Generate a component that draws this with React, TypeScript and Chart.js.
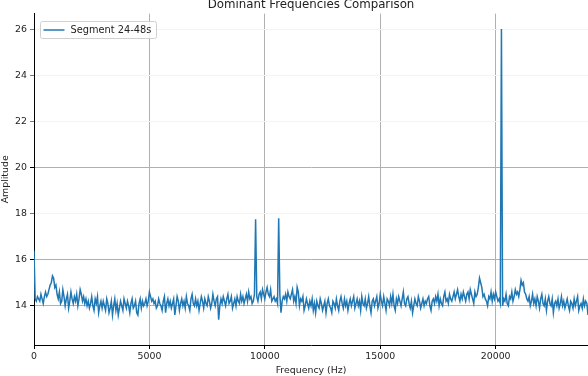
import React, { useEffect, useRef } from "react";
import { Chart, registerables } from "chart.js";

Chart.register(...registerables);

const TITLE = "Dominant Frequencies Comparison";
const SERIES_LABEL = "Segment 24-48s";
const X_LABEL = "Frequency (Hz)";
const Y_LABEL = "Amplitude";

// frequency bins every 50 Hz, 0 .. 24000 Hz
const FREQ_STEP_HZ = 50;
const AMPLITUDES: number[] = [
  // 0 - 950
  16.4, 14.3, 14.2, 14.4, 14.3, 14.2, 14.5, 14.3, 14.1, 14.4, 14.6, 14.4, 14.5, 14.7, 14.9, 15.0, 15.3, 15.2, 14.8, 14.9,
  // 1000 - 1950
  14.5, 14.3, 14.6, 14.1, 14.2, 14.7, 14.4, 14.0, 14.3, 14.5, 13.9, 14.2, 14.6, 14.3, 14.1, 14.4, 14.2, 14.5, 14.0, 14.3,
  // 2000 - 2950
  14.7, 14.5, 14.2, 14.4, 14.1, 14.3, 14.0, 14.2, 13.9, 14.1, 14.4, 14.0, 13.8, 14.3, 14.1, 14.4, 13.7, 14.0, 14.2, 13.9,
  // 3000 - 3950
  14.2, 14.0, 13.8, 14.3, 14.1, 13.7, 13.9, 14.2, 13.6, 14.0, 14.3, 13.8, 14.1, 13.6, 13.9, 14.2, 14.0, 13.8, 14.3, 14.1,
  // 4000 - 4950
  13.9, 14.2, 14.0, 13.7, 14.1, 14.3, 13.9, 14.0, 14.2, 13.7, 13.6, 14.1, 14.3, 13.9, 14.2, 14.0, 14.1, 14.3, 14.0, 14.2,
  // 5000 - 5950
  14.6, 14.4, 14.2, 14.3, 14.1, 14.2, 13.9, 14.0, 14.3, 14.1, 14.0, 13.8, 14.2, 14.4, 13.7, 14.1, 14.3, 14.0, 14.2, 13.9,
  // 6000 - 6950
  14.1, 14.3, 13.6, 14.0, 14.4, 14.2, 13.8, 14.1, 14.3, 14.0, 14.2, 13.9, 14.4, 14.1, 14.0, 13.8, 14.3, 14.5, 14.1, 14.0,
  // 7000 - 7950
  14.3, 14.0, 14.2, 13.8, 14.1, 14.4, 14.2, 13.9, 14.3, 14.1, 14.0, 14.4, 14.2, 13.9, 14.1, 14.5, 14.2, 14.0, 14.3, 14.4,
  // 8000 - 8950
  13.4, 14.0, 14.3, 14.1, 14.4, 14.2, 14.0, 14.3, 14.5, 14.1, 14.2, 14.4, 13.9, 14.1, 14.3, 14.0, 14.4, 14.2, 14.1, 14.5,
  // 9000 - 9950
  14.2, 14.4, 14.1, 14.3, 14.5, 14.2, 14.6, 14.3, 14.4, 14.1, 14.2, 14.5, 17.75, 14.4, 14.2, 14.5, 14.6, 14.3, 14.7, 14.5,
  // 10000 - 10950
  14.3, 14.6, 14.8, 14.5, 14.4, 14.7, 14.2, 14.3, 14.4, 14.2, 14.3, 14.1, 17.8, 14.5, 13.7, 14.2, 14.4, 14.3, 14.5, 14.2,
  // 11000 - 11950
  14.6, 14.4, 14.3, 14.5, 14.7, 14.2, 14.4, 14.1, 14.8, 14.6, 14.0, 14.3, 14.2, 14.4, 13.8, 14.0, 14.3, 14.1, 13.9, 14.2,
  // 12000 - 12950
  14.0, 14.3, 13.8, 14.1, 13.7, 14.2, 14.0, 13.9, 14.3, 14.1, 13.8, 14.0, 14.2, 13.7, 14.1, 14.3, 14.0, 13.9, 13.7, 14.2,
  // 13000 - 13950
  14.1, 13.9, 14.3, 14.0, 13.8, 14.2, 14.4, 14.1, 13.9, 14.3, 14.0, 14.2, 13.8, 14.1, 14.3, 14.0, 14.2, 14.4, 13.9, 14.1,
  // 14000 - 14950
  14.3, 14.0, 14.2, 13.8, 14.4, 14.1, 14.0, 14.3, 13.9, 14.1, 14.4, 14.0, 13.7, 14.2, 14.3, 14.0, 14.2, 14.4, 13.9, 14.1,
  // 15000 - 15950
  14.5, 14.2, 14.0, 14.4, 14.1, 13.8, 14.3, 14.2, 14.0, 14.4, 14.1, 14.5, 14.0, 13.8, 14.3, 14.1, 14.4, 14.2, 14.0, 14.3,
  // 16000 - 16950
  14.6, 14.1, 14.0, 14.3, 14.4, 14.1, 13.9, 14.2, 13.7, 14.0, 14.3, 14.1, 14.0, 14.4, 14.2, 13.9, 14.1, 14.3, 14.0, 14.2,
  // 17000 - 17950
  14.1, 14.3, 14.4, 14.0, 13.8, 14.2, 14.3, 14.1, 14.4, 14.2, 14.5, 14.0, 14.3, 14.1, 14.0, 14.4, 14.6, 14.2, 14.3, 14.1,
  // 18000 - 18950
  14.5, 14.3, 14.2, 14.4, 14.6, 14.3, 14.5, 14.7, 14.4, 14.2, 14.5, 14.3, 14.6, 14.4, 14.2, 14.5, 14.6, 14.3, 14.7, 14.5,
  // 19000 - 19950
  14.3, 14.1, 14.6, 14.4, 14.5, 14.8, 15.2, 15.0, 14.8, 14.4, 14.5, 14.3, 14.2, 14.0, 14.4, 14.3, 14.6, 14.2, 14.5, 14.3,
  // 20000 - 20950
  14.6, 14.4, 14.2, 14.3, 14.1, 26.0, 14.0, 14.3, 14.2, 14.5, 14.1, 14.0, 14.4, 14.3, 14.6, 14.2, 14.4, 14.7, 14.5, 14.6,
  // 21000 - 21950
  14.4, 14.7, 15.1, 14.9, 15.0, 14.6, 14.5, 14.3, 14.2, 14.4, 14.0, 14.2, 14.5, 14.1, 14.3, 14.0, 14.4, 14.2, 13.9, 14.3,
  // 22000 - 22950
  14.5, 14.1, 14.0, 14.3, 13.8, 14.2, 14.4, 14.1, 14.0, 14.3, 13.7, 14.1, 14.2, 14.0, 14.3, 13.9, 14.1, 14.4, 14.0, 14.2,
  // 23000 - 23950
  13.9, 14.1, 14.3, 14.0, 13.8, 14.2, 14.1, 13.9, 14.3, 14.0, 14.2, 14.4, 13.8, 14.0, 14.1, 13.9, 14.3, 14.0, 14.2, 14.1,
  // 24000
  13.6,
];

const X_TICKS = [0, 5000, 10000, 15000, 20000];
const Y_TICKS = [14, 16, 18, 20, 22, 24, 26];
const FAINT_Y_TICKS = [18, 22, 24, 26];

const X_MIN = 0;
const X_MAX = 24000;
const Y_MIN = 12.3;
const Y_MAX = 26.67;

const FONT = "'DejaVu Sans', sans-serif";
const LINE_COLOR = "#1f77b4";

const boxLegend = {
  id: "boxLegend",
  afterDatasetsDraw(chart: any) {
    const { ctx, chartArea } = chart;
    const label = chart.data.datasets[0].label as string;
    ctx.save();
    ctx.font = `9.8px ${FONT}`;
    const tw = ctx.measureText(label).width;
    const bx = Math.round(chartArea.left + 6) + 0.5;
    const by = Math.round(chartArea.top + 7) + 0.5;
    const bw = Math.round(30 + tw + 5);
    const bh = 17;
    ctx.beginPath();
    if ((ctx as any).roundRect) (ctx as any).roundRect(bx, by, bw, bh, 2);
    else ctx.rect(bx, by, bw, bh);
    ctx.fillStyle = "rgba(255,255,255,0.8)";
    ctx.fill();
    ctx.strokeStyle = "#d0d0d0";
    ctx.lineWidth = 1;
    ctx.stroke();
    const cy = by + bh / 2;
    ctx.beginPath();
    ctx.moveTo(bx + 3, cy);
    ctx.lineTo(bx + 24, cy);
    ctx.strokeStyle = LINE_COLOR;
    ctx.lineWidth = 1.5;
    ctx.stroke();
    ctx.fillStyle = "#222";
    ctx.textBaseline = "middle";
    ctx.textAlign = "left";
    ctx.fillText(label, bx + 30, cy);
    ctx.restore();
  },
};

export default function App() {
  const canvasRef = useRef<HTMLCanvasElement | null>(null);

  useEffect(() => {
    const canvas = canvasRef.current;
    if (!canvas) return;
    const points = AMPLITUDES.map((a, i) => ({ x: i * FREQ_STEP_HZ, y: a }));
    const chart = new Chart(canvas, {
      type: "line",
      data: {
        datasets: [
          {
            label: SERIES_LABEL,
            data: points,
            borderColor: LINE_COLOR,
            backgroundColor: LINE_COLOR,
            borderWidth: 1.5,
            pointRadius: 0,
            tension: 0,
            fill: false,
          },
        ],
      },
      options: {
        responsive: false,
        animation: false,
        devicePixelRatio: 1,
        layout: { padding: { left: 0, right: 0, top: 0, bottom: 0 } },
        plugins: {
          legend: { display: false },
          tooltip: { enabled: false },
          title: {
            display: true,
            text: TITLE,
            fullSize: false,
            color: "#222",
            font: { family: FONT, size: 11.8, weight: "normal" },
            padding: { top: -2, bottom: 1.5 },
          },
        },
        scales: {
          x: {
            type: "linear",
            min: X_MIN,
            max: X_MAX,
            afterBuildTicks: (scale: any) => {
              scale.ticks = X_TICKS.map((v) => ({ value: v }));
            },
            afterFit: (scale: any) => {
              scale.height = 31;
            },
            ticks: {
              color: "#222",
              font: { family: FONT, size: 9.4 },
              padding: 2,
              maxRotation: 0,
              autoSkip: false,
              callback: (v: any) => String(v),
            },
            grid: {
              color: "#b0b0b0",
              lineWidth: 1,
              tickColor: "#000",
              tickLength: 4,
              drawTicks: true,
            },
            border: { display: true, color: "#000", width: 1 },
            title: {
              display: true,
              text: X_LABEL,
              color: "#222",
              font: { family: FONT, size: 9.4 },
              padding: { top: 0, bottom: 0 },
            },
          },
          y: {
            type: "linear",
            min: Y_MIN,
            max: Y_MAX,
            afterBuildTicks: (scale: any) => {
              scale.ticks = Y_TICKS.map((v) => ({ value: v }));
            },
            afterFit: (scale: any) => {
              scale.width = 34;
            },
            ticks: {
              color: "#222",
              font: { family: FONT, size: 9.4 },
              padding: 3,
              autoSkip: false,
              callback: (v: any) => String(v),
            },
            grid: {
              color: (ctx: any) =>
                ctx.tick && FAINT_Y_TICKS.includes(ctx.tick.value) ? "#f3f3f3" : "#b0b0b0",
              tickColor: (ctx: any) =>
                ctx.tick && FAINT_Y_TICKS.includes(ctx.tick.value) ? "#777" : "#000",
              lineWidth: 1,
              tickLength: 4,
            },
            border: { display: true, color: "#000", width: 1 },
            title: {
              display: true,
              text: Y_LABEL,
              color: "#222",
              font: { family: FONT, size: 9.4 },
              padding: { top: 0, bottom: 0 },
            },
          },
        },
      },
      plugins: [boxLegend],
    } as any);
    return () => chart.destroy();
  }, []);

  return (
    <div style={{ position: "absolute", left: 0, top: 0, width: 588, height: 376, background: "#fff" }}>
      <canvas ref={canvasRef} width={588} height={376} style={{ display: "block" }} />
    </div>
  );
}
